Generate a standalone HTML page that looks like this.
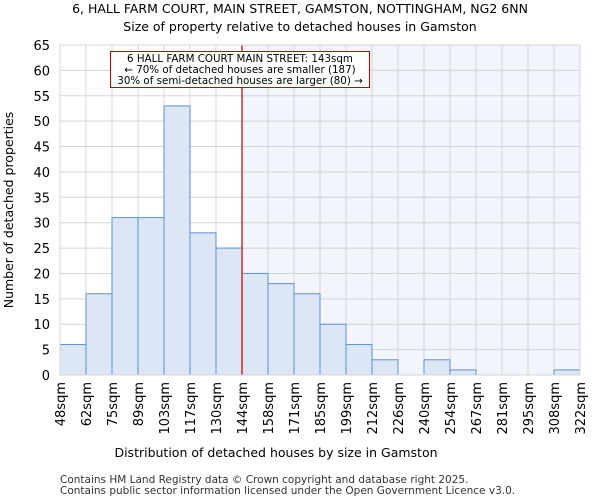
<!DOCTYPE html>
<html><head><meta charset="utf-8"><style>
body{margin:0;background:#fff;font-family:"DejaVu Sans","Liberation Sans",sans-serif;}
</style></head><body>
<svg id="chart" width="600" height="500" xmlns="http://www.w3.org/2000/svg" font-family="DejaVu Sans, Liberation Sans, sans-serif">
<text x="300" y="13" font-size="12.5" text-anchor="middle">6, HALL FARM COURT, MAIN STREET, GAMSTON, NOTTINGHAM, NG2 6NN</text>
<text x="300" y="31" font-size="12.5" text-anchor="middle">Size of property relative to detached houses in Gamston</text>
<g id="plot"></g>
<text x="276" y="457" font-size="12.5" text-anchor="middle">Distribution of detached houses by size in Gamston</text>
<text transform="translate(13,210) rotate(-90)" font-size="12.5" text-anchor="middle">Number of detached properties</text>
<text x="60" y="483" font-size="10.5" fill="#333">Contains HM Land Registry data © Crown copyright and database right 2025.</text>
<text x="60" y="494" font-size="10.5" fill="#333">Contains public sector information licensed under the Open Government Licence v3.0.</text>
</svg>
<script>
const categories=["48sqm","62sqm","75sqm","89sqm","103sqm","117sqm","130sqm","144sqm","158sqm","171sqm","185sqm","199sqm","212sqm","226sqm","240sqm","254sqm","267sqm","281sqm","295sqm","308sqm","322sqm"];
const counts=[6,16,31,31,53,28,25,20,18,16,10,6,3,0,3,1,0,0,0,1];
const yTicks=[0,5,10,15,20,25,30,35,40,45,50,55,60,65];
const markerIndex=7;
const NS="http://www.w3.org/2000/svg";
const L=60,R=580,T=45,B=375,yMax=65;
const nb=counts.length, bw=(R-L)/nb;
const xs=i=>L+i*bw;
const ys=v=>B-v/yMax*(B-T);
const g=document.getElementById('plot');
function mk(t,a){const e=document.createElementNS(NS,t);for(const k in a)e.setAttribute(k,a[k]);g.appendChild(e);return e;}
let e;
e=mk('rect',{x:xs(markerIndex),y:T,width:R-xs(markerIndex),height:B-T,fill:'#f3f5fc'});


yTicks.forEach(v=>{
 e=mk('line',{x1:L,x2:R,y1:ys(v),y2:ys(v),stroke:'#d4d4d4','stroke-width':1});
 
 
 e=mk('text',{x:L-10,y:ys(v)+5,'font-size':13,'text-anchor':'end'});e.textContent=v;
 
 
});
categories.forEach((c,i)=>{
 e=mk('line',{x1:xs(i),x2:xs(i),y1:T,y2:B,stroke:'#d4d4d4','stroke-width':1});
 
 
 e=mk('text',{transform:`translate(${xs(i)+5},382) rotate(-90)`,'font-size':13,'text-anchor':'end'});e.textContent=c;
 
 
});
counts.forEach((v,i)=>{
 e=mk('rect',{x:xs(i),y:ys(v),width:bw,height:B-ys(v),fill:'#dce6f4',stroke:'#5b8fd6','stroke-width':1});
 
 
});
e=mk('line',{x1:xs(markerIndex),x2:xs(markerIndex),y1:T,y2:B,stroke:'#c00000','stroke-width':1.2});


e=mk('rect',{x:110.5,y:51.5,width:259,height:36,fill:'#fff',stroke:'#c00000','stroke-width':1});


["6 HALL FARM COURT MAIN STREET: 143sqm","← 70% of detached houses are smaller (187)","30% of semi-detached houses are larger (80) →"].forEach((t,k)=>{
 e=mk('text',{x:240,y:62+k*11,'font-size':10.3,'text-anchor':'middle'});e.textContent=t;
 
 
});
e=mk('rect',{x:L,y:T,width:R-L,height:B-T,fill:'none',stroke:'#d4d4d4'});


</script>
</body></html>
